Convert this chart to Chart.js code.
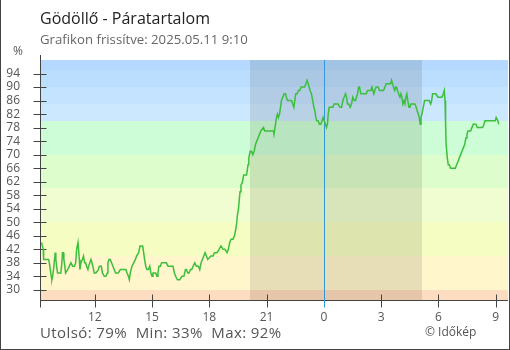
<!DOCTYPE html>
<html lang="hu">
<head>
  <meta charset="UTF-8" />
  <title>Gödöllő - Páratartalom</title>
  <script src="https://cdn.jsdelivr.net/npm/chart.js"></script>
  <style>
    body {
      margin: 0;
      background: #fff;
      font-family: 'Open Sans', sans-serif;
    }
    .wrap {
      position: relative;
      width: 510px;
      height: 350px;
      overflow: hidden;
    }
    canvas {
      position: absolute;
      left: 0;
      top: 0;
    }
    .frame {
      position: absolute;
      left: 0;
      top: 0;
      width: 510px;
      height: 350px;
      box-sizing: border-box;
      border: 1px solid #444;
      border-top: none;
      pointer-events: none;
    }
    .txt {
      position: absolute;
      white-space: nowrap;
      color: #555;
    }
    .title { left: 40px; top: 10px; font-size: 16px; line-height: 16px; color: #222; }
    .updated { left: 40px; top: 33px; font-size: 13.2px; line-height: 13px; color: #666; }
    .unit { left: 13px; top: 45px; font-size: 12px; line-height: 12px; }
    .stats { left: 40px; top: 325px; font-size: 15px; line-height: 15px; letter-spacing: 0.4px; }
    .copy { left: 425px; top: 326px; font-size: 12px; line-height: 12px; }
  </style>
</head>
<body>
  <div class="wrap">
    <canvas id="chart" width="510" height="350"></canvas>
    <div class="txt title">Gödöllő - Páratartalom</div>
    <div class="txt updated">Grafikon frissítve: 2025.05.11 9:10</div>
    <div class="txt unit">%</div>
    <div class="txt stats">Utolsó: 79%&nbsp; Min: 33%&nbsp; Max: 92%</div>
    <div class="txt copy">© Időkép</div>
    <div class="frame"></div>
  </div>

  <script>
    // hours relative to midnight (negative = previous day)
    const hours = [
      -14.79, -14.75, -14.70, -14.68, -14.42, -14.38, -14.33, -14.28, -14.25, -14.21,
      -14.16, -14.11, -14.07, -14.04, -14.00, -13.95, -13.78, -13.74, -13.69, -13.65,
      -13.62, -13.57, -13.53, -13.42, -13.25, -13.16, -13.06, -13.00, -12.95, -12.88,
      -12.85, -12.81, -12.78, -12.73, -12.65, -12.59, -12.53, -12.48, -12.43, -12.36,
      -12.32, -12.26, -12.20, -12.15, -12.10, -12.03, -11.94, -11.81, -11.76, -11.66,
      -11.60, -11.50, -11.42, -11.34, -11.31, -11.26, -11.19, -11.12, -11.05, -10.98,
      -10.91, -10.77, -10.66, -10.37, -10.31, -10.24, -10.19, -10.14, -10.05, -9.96,
      -9.87, -9.81, -9.70, -9.63, -9.49, -9.44, -9.39, -9.33, -9.27, -9.19,
      -9.12, -9.06, -9.00, -8.95, -8.81, -8.74, -8.69, -8.64, -8.56, -8.50,
      -8.25, -8.16, -7.90, -7.83, -7.76, -7.67, -7.55, -7.43, -7.33, -7.25,
      -7.20, -7.13, -7.06, -6.99, -6.92, -6.85, -6.76, -6.68, -6.57, -6.50,
      -6.43, -6.36, -6.29, -6.22, -6.15, -6.08, -5.91, -5.80, -5.73, -5.60,
      -5.49, -5.39, -5.28, -5.18, -5.07, -5.00, -4.93, -4.86, -4.76, -4.68,
      -4.61, -4.56, -4.53, -4.47, -4.44, -4.39, -4.34, -4.26, -4.20, -4.05,
      -4.02, -3.97, -3.93, -3.86, -3.79, -3.72, -3.65, -3.58, -3.51, -3.44,
      -3.37, -3.30, -3.16, -3.09, -2.64, -2.61, -2.53, -2.48, -2.43, -2.38,
      -2.32, -2.27, -2.22, -2.15, -2.08, -2.01, -1.96, -1.90, -1.69, -1.63,
      -1.57, -1.52, -1.47, -1.40, -1.33, -1.26, -1.19, -1.01, -0.94, -0.88,
      -0.82, -0.77, -0.72, -0.65, -0.58, -0.52, -0.47, -0.42, -0.37, -0.30,
      -0.23, -0.16, -0.09, -0.04, 0.02, 0.09, 0.14, 0.19, 0.23, 0.28,
      0.47, 0.54, 0.75, 0.84, 0.93, 1.00, 1.06, 1.14, 1.19, 1.24,
      1.31, 1.38, 1.45, 1.52, 1.59, 1.66, 1.71, 1.77, 1.82, 1.87,
      1.94, 2.22, 2.29, 2.46, 2.52, 2.57, 2.62, 2.67, 2.74, 2.85,
      2.92, 3.13, 3.20, 3.27, 3.50, 3.55, 3.60, 3.65, 3.71, 3.76,
      3.81, 3.86, 3.92, 3.99, 4.04, 4.09, 4.14, 4.20, 4.25, 4.30,
      4.35, 4.40, 4.46, 4.51, 4.56, 4.77, 4.84, 4.89, 4.95, 5.00,
      5.05, 5.09, 5.14, 5.21, 5.28, 5.52, 5.60, 5.65, 5.70, 5.87,
      5.98, 6.19, 6.26, 6.31, 6.35, 6.38, 6.41, 6.47, 6.52, 6.57,
      6.64, 6.89, 6.96, 7.03, 7.10, 7.17, 7.24, 7.31, 7.38, 7.45,
      7.50, 7.55, 7.69, 7.76, 7.83, 7.97, 8.04, 8.32, 8.39, 8.44,
      8.98, 9.03, 9.12, 9.17
    ];
    const humidity = [
      44, 43, 42, 39, 39, 38, 36, 34, 33, 34,
      36, 39, 41, 39, 37, 35, 35, 37, 41, 41,
      39, 37, 35, 36, 38, 37, 37, 38, 42, 44,
      42, 39, 36, 38, 39, 40, 38, 38, 37, 36,
      37, 38, 39, 38, 37, 35, 35, 36, 37, 37,
      35, 34, 34, 35, 38, 39, 39, 38, 37, 36,
      35, 35, 36, 36, 35, 34, 33, 35, 37, 38,
      39, 40, 41, 43, 43, 41, 39, 37, 36, 36,
      37, 35, 34, 35, 35, 34, 35, 37, 37, 38,
      38, 37, 37, 35, 34, 33, 33, 34, 34, 36,
      36, 35, 35, 36, 36, 37, 38, 37, 37, 36,
      38, 39, 40, 41, 40, 39, 40, 40, 41, 41,
      42, 43, 42, 42, 41, 42, 44, 45, 45, 46,
      48, 50, 52, 54, 56, 59, 61, 62, 64, 64,
      65, 67, 69, 71, 71, 70, 71, 73, 74, 75,
      76, 77, 78, 77, 77, 76, 79, 81, 82, 81,
      82, 84, 86, 87, 88, 88, 87, 86, 86, 85,
      84, 86, 88, 88, 89, 89, 90, 90, 91, 92,
      91, 90, 89, 88, 86, 84, 83, 81, 80, 80,
      79, 79, 80, 81, 80, 79, 78, 79, 82, 84,
      84, 85, 85, 84, 84, 86, 87, 88, 87, 85,
      85, 84, 85, 87, 86, 86, 87, 88, 90, 90,
      88, 88, 89, 89, 90, 89, 88, 89, 90, 90,
      89, 89, 90, 91, 91, 92, 91, 90, 89, 90,
      90, 89, 88, 87, 88, 87, 85, 86, 85, 87,
      88, 86, 84, 84, 85, 85, 84, 83, 82, 81,
      79, 81, 82, 84, 86, 86, 85, 86, 88, 88,
      87, 87, 88, 89, 86, 79, 73, 69, 67, 67,
      66, 66, 67, 68, 69, 70, 71, 72, 73, 75,
      76, 77, 77, 78, 79, 79, 78, 78, 79, 80,
      80, 81, 80, 79
    ];

    const yTicks = [30, 34, 38, 42, 46, 50, 54, 58, 62, 66, 70, 74, 78, 82, 86, 90, 94];
    const xTickHours = [-12, -9, -6, -3, 0, 3, 6, 9];
    const xTickLabels = ['12', '15', '18', '21', '0', '3', '6', '9'];

    // humidity colour bands, lower edge -> upper edge
    const bandEdges = [27, 30, 40, 50, 60, 70, 80, 85, 90, 95, 98];
    const bandColors = [
      '#fddcbf', '#fff6cc', '#f5fdc2', '#effdd0', '#ddfdcc',
      '#ccfdd6', '#cce8fe', '#c3e3fe', '#bcdefe', '#b4d8fe'
    ];
    const nightStart = -3.88;
    const nightEnd = 5.14;

    const axisColor = '#444';
    const midnightColor = '#3397dc';

    const backdrop = {
      id: 'backdrop',
      beforeDatasetsDraw(chart) {
        const { ctx, chartArea: a, scales: { x, y } } = chart;
        ctx.save();
        bandColors.forEach((c, i) => {
          const top = Math.round(y.getPixelForValue(bandEdges[i + 1]));
          const bot = Math.round(y.getPixelForValue(bandEdges[i]));
          ctx.fillStyle = c;
          ctx.fillRect(a.left, top, a.right - a.left, bot - top);
        });

        const n0 = Math.round(x.getPixelForValue(nightStart));
        const n1 = Math.round(x.getPixelForValue(nightEnd));
        ctx.fillStyle = 'rgba(20,10,0,0.1)';
        ctx.fillRect(n0, a.top, n1 - n0, a.bottom - a.top);

        ctx.lineWidth = 1;
        // axes
        const ax = Math.round(a.left) + 0.5;
        const ay = Math.round(a.bottom) + 0.5;
        ctx.strokeStyle = axisColor;
        ctx.beginPath();
        ctx.moveTo(ax, a.top - 5);
        ctx.lineTo(ax, ay + 7);
        ctx.moveTo(a.left, ay);
        ctx.lineTo(a.right, ay);
        yTicks.forEach(v => {
          const py = Math.round(y.getPixelForValue(v)) + 0.5;
          ctx.moveTo(ax - 7, py);
          ctx.lineTo(ax + 6, py);
        });
        xTickHours.forEach(h => {
          if (h === 0) return;
          const px = Math.round(x.getPixelForValue(h)) + 0.5;
          ctx.moveTo(px, ay - 6);
          ctx.lineTo(px, ay + 7);
        });
        ctx.stroke();

        // midnight marker
        const mx = Math.round(x.getPixelForValue(0)) + 0.5;
        ctx.strokeStyle = midnightColor;
        ctx.beginPath();
        ctx.moveTo(mx, a.top);
        ctx.lineTo(mx, ay + 7);
        ctx.stroke();
        ctx.restore();
      }
    };

    const tickFont = { family: "'Open Sans', sans-serif", size: 12 };

    new Chart(document.getElementById('chart'), {
      type: 'line',
      data: {
        datasets: [{
          data: hours.map((h, i) => ({ x: h, y: humidity[i] })),
          borderColor: '#3cbf3c',
          borderWidth: 1.5,
          pointRadius: 0,
          tension: 0,
          fill: false
        }]
      },
      options: {
        responsive: false,
        animation: false,
        layout: { padding: { top: 60, right: 2, left: 0, bottom: 0 } },
        plugins: {
          legend: { display: false },
          tooltip: { enabled: false }
        },
        scales: {
          x: {
            type: 'linear',
            min: -14.87,
            max: 9.65,
            afterBuildTicks: s => { s.ticks = xTickHours.map(v => ({ value: v })); },
            afterFit: s => { s.height = 50; },
            grid: { display: false, drawTicks: false },
            border: { display: false },
            ticks: {
              autoSkip: false,
              maxRotation: 0,
              padding: 10,
              color: '#555',
              font: tickFont,
              callback: v => xTickLabels[xTickHours.indexOf(v)]
            }
          },
          y: {
            min: 27,
            max: 98,
            afterBuildTicks: s => { s.ticks = yTicks.map(v => ({ value: v })); },
            afterFit: s => { s.width = 40; },
            grid: { display: false, drawTicks: false },
            border: { display: false },
            ticks: {
              autoSkip: false,
              padding: 20,
              color: '#555',
              font: tickFont
            }
          }
        }
      },
      plugins: [backdrop]
    });
  </script>
</body>
</html>
